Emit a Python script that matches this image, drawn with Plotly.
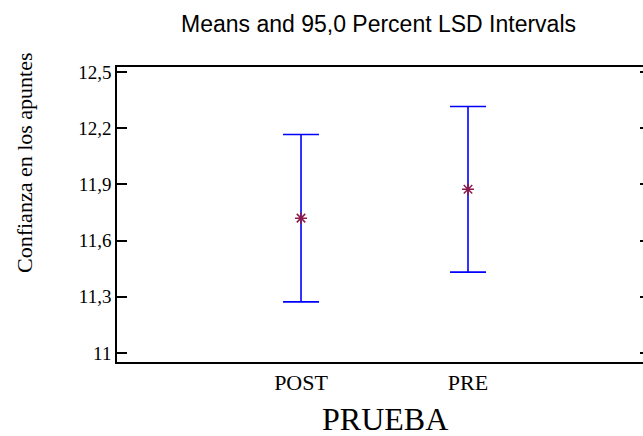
import plotly.graph_objects as go

# Group means with 95% LSD interval bounds
groups = ["POST", "PRE"]
means = [11.72, 11.874]
lower = [11.273, 11.432]
upper = [12.167, 12.316]

y_ticks = [11.0, 11.3, 11.6, 11.9, 12.2, 12.5]
y_tick_text = ["11", "11,3", "11,6", "11,9", "12,2", "12,5"]

err_plus = [u - m for u, m in zip(upper, means)]
err_minus = [m - l for m, l in zip(means, lower)]

W, H = 643, 436
ML, MR, MT, MB = 117, 0, 67, 74
pw = W - ML - MR
ph = H - MT - MB

fig = go.Figure()
fig.add_trace(go.Scatter(
    x=groups, y=means, mode="markers",
    marker=dict(symbol="asterisk-open", size=10, color="#8B1A4B",
                line=dict(width=1.5, color="#8B1A4B")),
    error_y=dict(type="data", symmetric=False, array=err_plus, arrayminus=err_minus,
                 color="#0000FF", thickness=1.6, width=18),
    showlegend=False, hoverinfo="skip",
))
# invisible trace to carry the right-hand tick marks
fig.add_trace(go.Scatter(x=groups, y=means, yaxis="y2", mode="markers",
                         marker=dict(opacity=0), showlegend=False, hoverinfo="skip"))

yr = [10.952, 12.527]
fig.update_layout(
    width=W, height=H,
    margin=dict(l=ML, r=MR, t=MT, b=MB),
    paper_bgcolor="white", plot_bgcolor="white",
    title=dict(text="Means and 95,0 Percent LSD Intervals",
               font=dict(family="Liberation Sans, Arial", size=23, color="black"),
               x=(378.5 - ML) / pw, xref="paper", xanchor="center",
               y=1 - 24 / H, yref="container", yanchor="middle"),
    xaxis=dict(range=[-1.102, 2.048], showgrid=False, zeroline=False,
               showline=True, linecolor="black", linewidth=1.6, mirror=True,
               ticks="", tickfont=dict(family="Liberation Serif, Times New Roman", size=22, color="black")),
    yaxis=dict(range=yr, tickvals=y_ticks, ticktext=y_tick_text,
               showgrid=False, zeroline=False, showline=True, linecolor="black",
               linewidth=1.6, ticks="inside", ticklen=10, tickwidth=1.5, tickcolor="black",
               tickfont=dict(family="Liberation Serif, Times New Roman", size=19, color="black")),
    yaxis2=dict(range=yr, tickvals=y_ticks, overlaying="y", side="right", anchor="x",
                showgrid=False, zeroline=False, showline=False, showticklabels=False,
                ticks="inside", ticklen=3, tickwidth=1.5, tickcolor="black"),
    annotations=[
        dict(text="Confianza en los apuntes", textangle=-90, showarrow=False,
             xref="paper", yref="paper", x=-(ML - 24) / pw, y=(MT + ph - 163) / ph,
             xanchor="center", yanchor="middle",
             font=dict(family="Liberation Serif, Times New Roman", size=22, color="black")),
        dict(text="PRUEBA", showarrow=False,
             xref="paper", yref="paper", x=(385 - ML) / pw, y=-(419 - MT - ph) / ph,
             xanchor="center", yanchor="middle",
             font=dict(family="Liberation Serif, Times New Roman", size=32, color="black")),
    ],
)

fig.write_html("out.html")
